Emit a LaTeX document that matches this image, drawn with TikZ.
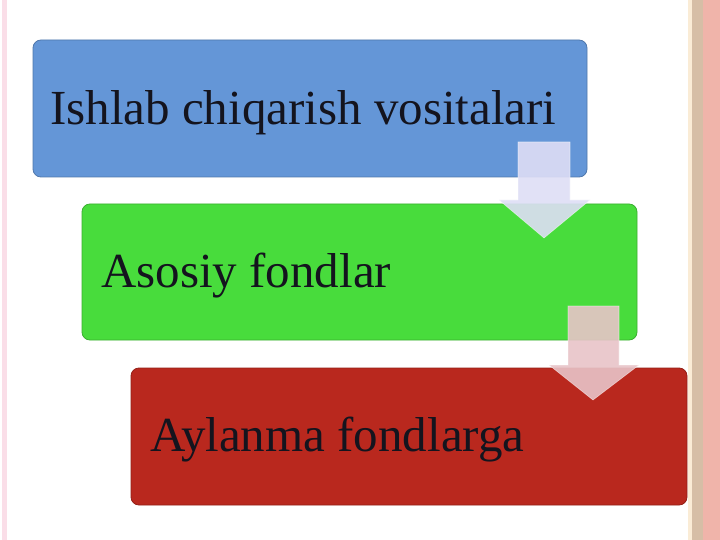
\documentclass[tikz,border=0pt]{standalone}
\usepackage{fontspec}
\setmainfont{Liberation Serif}
\definecolor{boxblue}{RGB}{100,150,215}
\definecolor{boxgreen}{RGB}{72,220,60}
\definecolor{boxred}{RGB}{185,40,30}
\definecolor{arrowone}{RGB}{222,222,246}
\definecolor{arrowtwo}{RGB}{232,196,200}
\definecolor{txtdark}{RGB}{20,20,30}
\definecolor{stripepink}{RGB}{250,222,232}
\definecolor{stripecream}{RGB}{250,236,214}
\definecolor{stripetan}{RGB}{214,190,166}
\definecolor{stripesalmon}{RGB}{240,180,170}
\begin{document}
\begin{tikzpicture}[x=1pt,y=-1pt,
  stagebox/.style={draw=#1!80!black, line width=0.8pt, fill=#1, rounded corners=8pt},
  stagetext/.style={anchor=base west, inner sep=0pt, text=txtdark, font=\fontsize{49}{57}\selectfont},
  blockarrow/.style={fill=#1, fill opacity=0.9, draw=white, draw opacity=0.5, line width=0.6pt}]
\useasboundingbox (0,0) rectangle (720,540);
\fill[white] (0,0) rectangle (720,540);
% side stripes
\fill[stripepink] (2,0) rectangle (7,540);
\fill[stripecream] (688,0) rectangle (692,540);
\fill[stripetan] (692,0) rectangle (703,540);
\fill[stripesalmon] (703,0) rectangle (720,540);
% boxes
\draw[stagebox=boxblue] (33,40) rectangle (587,177);
\node[stagetext] (t1) at (50,125) {Ishlab chiqarish vositalari};
\draw[stagebox=boxgreen] (82,204) rectangle (637,340);
\node[stagetext] (t2) at (101,287) {Asosiy fondlar};
\draw[stagebox=boxred] (131,368) rectangle (687,505);
\node[stagetext] (t3) at (150,451) {Aylanma fondlarga};
% block arrows
\draw[blockarrow=arrowone] (518,142) -- (570,142) -- (570,200) -- (590,200) -- (544,238) -- (499,200) -- (518,200) -- cycle;
\draw[blockarrow=arrowtwo] (568,306) -- (619,306) -- (619,365) -- (639,365) -- (593,400) -- (549,365) -- (568,365) -- cycle;
\end{tikzpicture}
\end{document}
